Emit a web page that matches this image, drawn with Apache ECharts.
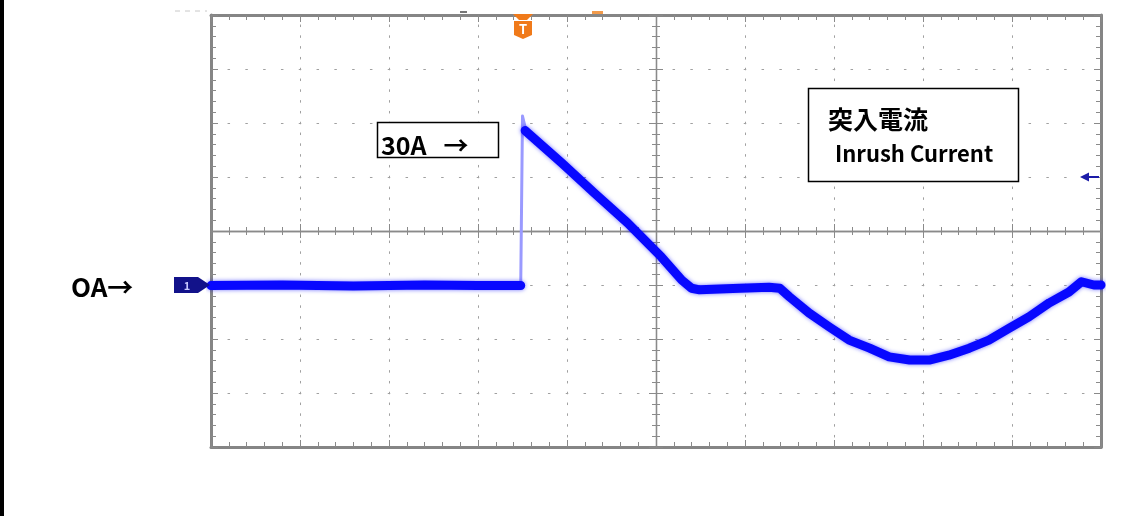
<!DOCTYPE html>
<html><head><meta charset="utf-8">
<script src="https://cdn.jsdelivr.net/npm/echarts@6/dist/echarts.min.js"></script>
<style>html,body{margin:0;padding:0;background:#fff}#c{width:1141px;height:516px}</style>
</head><body><div id="c"></div>
<script>
// time in divisions (10 horizontal divisions), current in A (10 A / div)
const baseT = [0.0, 0.8, 1.6, 2.4, 3.0, 3.48];
const baseA = [-0.1, 0.0, -0.2, 0.0, -0.1, -0.1];
const spikeT = [3.48, 3.50, 3.54];
const spikeA = [-0.1, 31.3, 28.5];
const decayT = [3.53, 3.94, 4.31, 4.68, 5.06, 5.29, 5.40, 5.49, 5.94, 6.27, 6.39, 6.50, 6.72, 6.95, 7.17, 7.40, 7.62, 7.85, 8.07, 8.29, 8.52, 8.74, 8.97, 9.19, 9.42, 9.64, 9.78, 9.92, 10.0];
const decayA = [28.6, 22.6, 17.0, 11.5, 5.2, 0.9, -0.6, -0.9, -0.6, -0.4, -0.6, -2.2, -5.2, -7.8, -10.2, -11.7, -13.3, -13.9, -13.9, -13.0, -11.7, -10.2, -8.0, -5.9, -3.3, -1.3, 0.6, 0.0, 0.0];

const X_MIN = 0, X_MAX = 10, X_STEP = 1;
const Y_MIN = -30, Y_MAX = 50, Y_STEP = 10;

const labels = {zero: 'OA→', peak: '30A   →', titleJa: '突入電流', titleEn: 'Inrush Current'};

const G = {left: 211, top: 15, width: 890, height: 432};
const FONT = '"Noto Sans CJK JP", "Noto Sans", sans-serif';
const border = '#858585', tickGray = '#8a8a8a', dotGray = '#a0a0a0', centerGray = '#8a8a8a';

function pairs(t, a) { return t.map((v, i) => [v, a[i]]); }

function axisX(pos, offset, inside, lineW, lineC, tickLen, minorLen, split) {
  return {
    type: 'value', min: X_MIN, max: X_MAX, interval: X_STEP, position: pos, offset: offset,
    axisLine: {show: true, onZero: false, lineStyle: {color: lineC, width: lineW}},
    axisTick: {show: true, inside: inside, length: tickLen, lineStyle: {color: tickGray, width: 1}},
    minorTick: {show: true, splitNumber: 5, length: minorLen, lineStyle: {color: tickGray, width: 1}},
    axisLabel: {show: false},
    splitLine: split ? {show: true, lineStyle: {color: dotGray, width: 1, type: [2.5, 8.3], dashOffset: 1.25}} : {show: false},
    minorSplitLine: {show: false}
  };
}
function axisY(pos, offset, inside, lineW, lineC, tickLen, minorLen, split) {
  return {
    type: 'value', min: Y_MIN, max: Y_MAX, interval: Y_STEP, position: pos, offset: offset,
    axisLine: {show: true, onZero: false, lineStyle: {color: lineC, width: lineW}},
    axisTick: {show: true, inside: inside, length: tickLen, lineStyle: {color: tickGray, width: 1}},
    minorTick: {show: true, splitNumber: 5, length: minorLen, lineStyle: {color: tickGray, width: 1}},
    axisLabel: {show: false},
    splitLine: split ? {show: true, lineStyle: {color: dotGray, width: 1, type: [2.5, 15.3], dashOffset: 1.25}} : {show: false},
    minorSplitLine: {show: false}
  };
}

const traceStyle = {color: '#0808ff', width: 9, join: 'round', cap: 'round', shadowBlur: 4, shadowColor: 'rgba(0,0,255,0.55)'};

const chart = echarts.init(document.getElementById('c'), null, {renderer: 'canvas'});
const option = {
  animation: false,
  backgroundColor: '#ffffff',
  grid: Object.assign({containLabel: false, outerBoundsMode: 'none'}, G),
  xAxis: [
    axisX('bottom', 0, true, 3, border, 7, 5, true),
    axisX('top', 0, true, 3, border, 7, 5, false),
    axisX('bottom', -G.height / 2, true, 1.3, centerGray, 7, 4, false),
    axisX('bottom', -G.height / 2, false, 1.3, centerGray, 7, 4, false)
  ],
  yAxis: [
    axisY('left', 0, true, 3, border, 7, 5, true),
    axisY('right', 0, true, 3, border, 7, 5, false),
    axisY('left', -G.width / 2, true, 1.3, centerGray, 7, 4, false),
    axisY('left', -G.width / 2, false, 1.3, centerGray, 7, 4, false)
  ],
  series: [
    {type: 'line', data: pairs(baseT, baseA), showSymbol: false, z: 5, lineStyle: traceStyle},
    {type: 'line', data: pairs(spikeT, spikeA), showSymbol: false, z: 4,
     lineStyle: {color: '#9a9aff', width: 3, join: 'round'}},
    {type: 'line', data: pairs(decayT, decayA), showSymbol: false, z: 5, lineStyle: traceStyle}
  ],
  graphic: [
    {type: 'rect', z: 100, shape: {x: 0, y: 0, width: 4, height: 516}, style: {fill: '#000'}},
    // faint dashes at top-left
    {type: 'line', z: 100, shape: {x1: 175, y1: 11, x2: 207, y2: 11}, style: {stroke: '#c8c8c8', lineWidth: 1, lineDash: [5, 5]}},
    {type: 'rect', z: 100, shape: {x: 460, y: 11, width: 7, height: 2}, style: {fill: '#777'}},
    {type: 'rect', z: 100, shape: {x: 592, y: 11, width: 11, height: 3}, style: {fill: '#f29a4a'}},
    // trigger marker
    {type: 'polygon', z: 100, shape: {points: [[513, 14], [533, 14], [527, 20], [519, 20]]}, style: {fill: '#f07a1a'}},
    {type: 'polygon', z: 100, shape: {points: [[514, 21], [532, 21], [532, 35], [523, 39], [514, 35]]}, style: {fill: '#f07a1a'}},
    {type: 'text', z: 101, x: 523, y: 29, style: {text: 'T', fill: '#fff', font: 'bold 13px ' + FONT, align: 'center', verticalAlign: 'middle'}},
    // channel 1 marker
    {type: 'polygon', z: 100, shape: {points: [[174, 277], [198, 277], [210, 285], [198, 293], [174, 293]]}, style: {fill: '#12128a'}},
    {type: 'text', z: 101, x: 187, y: 285.5, style: {text: '1', fill: '#c8c8ff', font: 'bold 11px ' + FONT, align: 'center', verticalAlign: 'middle'}},
    // right reference arrow
    {type: 'polygon', z: 100, shape: {points: [[1080, 177], [1089, 172.5], [1089, 181.5]]}, style: {fill: '#1c1ca8'}},
    {type: 'line', z: 100, shape: {x1: 1088, y1: 177, x2: 1099, y2: 177}, style: {stroke: '#1c1ca8', lineWidth: 2}},
    // labels
    {type: 'text', z: 101, x: 71, y: 287, style: {text: labels.zero, fill: '#000', font: 'bold 26px ' + FONT, verticalAlign: 'middle'}},
    {type: 'rect', z: 100, shape: {x: 377.5, y: 122.5, width: 121, height: 35}, style: {fill: '#fff', stroke: '#000', lineWidth: 1.5}},
    {type: 'text', z: 101, x: 381, y: 145, style: {text: labels.peak, fill: '#000', font: 'bold 25px ' + FONT, verticalAlign: 'middle'}},
    {type: 'rect', z: 100, shape: {x: 808.5, y: 88.5, width: 210, height: 93}, style: {fill: '#fff', stroke: '#000', lineWidth: 1.5}},
    {type: 'text', z: 101, x: 828, y: 119, style: {text: labels.titleJa, fill: '#000', font: 'bold 25px ' + FONT, verticalAlign: 'middle'}},
    {type: 'text', z: 101, x: 835, y: 154, style: {text: labels.titleEn, fill: '#000', font: 'bold 22px ' + FONT, verticalAlign: 'middle'}}
  ]
};
chart.setOption(option);
</script></body></html>
